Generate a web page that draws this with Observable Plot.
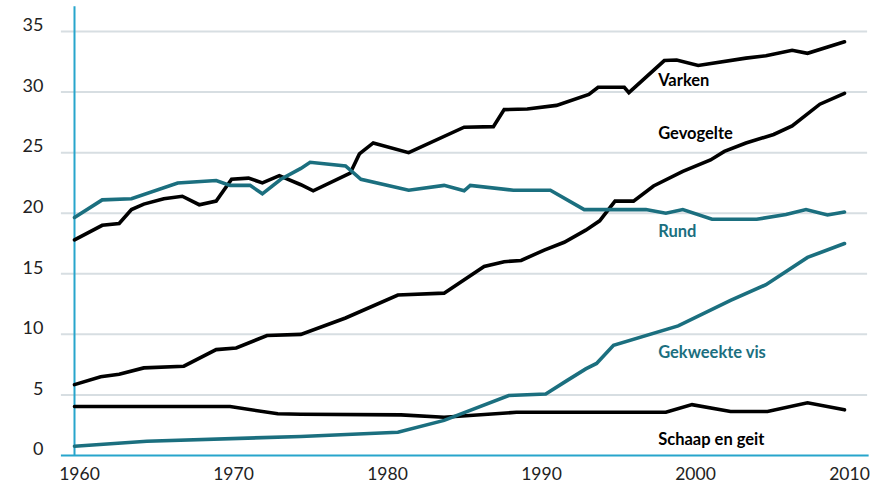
<!DOCTYPE html>
<html>
<head>
<meta charset="utf-8">
<script src="https://cdn.jsdelivr.net/npm/d3@7"></script>
<script src="https://cdn.jsdelivr.net/npm/@observablehq/plot@0.6"></script>
<style>
  html, body { margin: 0; padding: 0; background: #fff; }
  #chart { width: 886px; height: 485px; }
  svg { font-family: Lato, "Noto Sans", sans-serif; }
</style>
</head>
<body>
<div id="chart"></div>
<script>
// Series (year, value)
const varkenYears = [1960, 1961.8, 1962.9, 1963.7, 1964.5, 1965.8, 1967.0, 1968.1, 1969.2, 1970.2, 1971.3, 1972.2, 1973.3, 1974.7, 1975.5, 1977.9, 1978.5, 1979.4, 1981.7, 1985.3, 1987.2, 1987.9, 1989.4, 1991.3, 1993.4, 1994.0, 1995.7, 1996.0, 1998.3, 1999.1, 2000.5, 2003.6, 2004.9, 2006.6, 2007.6, 2010];
const varkenValues = [17.8, 19.0, 19.15, 20.3, 20.75, 21.2, 21.4, 20.7, 21.0, 22.8, 22.9, 22.5, 23.1, 22.35, 21.85, 23.3, 24.9, 25.8, 25.0, 27.1, 27.15, 28.55, 28.6, 28.9, 29.8, 30.4, 30.4, 29.95, 32.6, 32.65, 32.2, 32.8, 33.0, 33.45, 33.2, 34.15];

const gevogelteYears = [1960, 1961.7, 1962.9, 1964.5, 1967.1, 1969.2, 1970.5, 1972.5, 1974.7, 1977.6, 1981.0, 1984.0, 1986.6, 1987.9, 1989.0, 1990.5, 1991.8, 1993.2, 1994.1, 1995.1, 1996.3, 1997.6, 1999.5, 2001.3, 2002.2, 2003.6, 2005.4, 2006.6, 2008.4, 2010];
const gevogelteValues = [5.85, 6.5, 6.7, 7.23, 7.37, 8.74, 8.88, 9.9, 10.0, 11.35, 13.25, 13.4, 15.6, 16.0, 16.1, 16.96, 17.6, 18.6, 19.37, 21.0, 21.0, 22.25, 23.45, 24.4, 25.1, 25.8, 26.5, 27.2, 29.0, 29.9];

const rundYears = [1960, 1961.8, 1963.7, 1966.7, 1969.2, 1970.1, 1971.4, 1972.2, 1973.4, 1974.7, 1975.3, 1977.6, 1978.6, 1981.7, 1984.0, 1985.3, 1985.7, 1988.5, 1990.9, 1993.1, 1997.1, 1998.4, 1999.5, 2001.4, 2004.3, 2006.2, 2007.5, 2008.9, 2010];
const rundValues = [19.65, 21.1, 21.2, 22.5, 22.7, 22.3, 22.3, 21.6, 22.8, 23.7, 24.2, 23.9, 22.8, 21.9, 22.3, 21.85, 22.3, 21.9, 21.9, 20.3, 20.3, 20.0, 20.3, 19.5, 19.5, 19.9, 20.3, 19.85, 20.1];

const visYears = [1960, 1964.7, 1974.7, 1981.0, 1984.0, 1988.2, 1990.6, 1992.0, 1993.2, 1993.9, 1995.0, 1999.2, 2002.6, 2004.9, 2007.6, 2010];
const visValues = [0.77, 1.18, 1.57, 1.92, 2.9, 4.95, 5.08, 6.2, 7.15, 7.6, 9.1, 10.7, 12.8, 14.1, 16.35, 17.5];

const schaapYears = [1960, 1970.1, 1973.2, 1974.7, 1981.2, 1984.0, 1988.7, 1998.4, 2000.1, 2002.6, 2005.0, 2007.6, 2010];
const schaapValues = [4.04, 4.04, 3.44, 3.4, 3.35, 3.16, 3.57, 3.57, 4.2, 3.63, 3.63, 4.35, 3.77];

// Labels
const seriesNames = ["Varken", "Gevogelte", "Rund", "Gekweekte vis", "Schaap en geit"];
const labelX = [1997.9, 1997.9, 1997.9, 1997.9, 1997.9];
const labelY = [30.95, 26.6, 18.5, 8.5, 1.3];

const yTicks = [0, 5, 10, 15, 20, 25, 30, 35];
const xTicks = [1960, 1970, 1980, 1990, 2000, 2010];

const BLACK = "#000000";
const TEAL = "#1b6f7f";
const AXIS = "#27a5cc";
const GRID = "#d7dee2";

const seriesColor = {"Varken": BLACK, "Gevogelte": BLACK, "Rund": TEAL, "Gekweekte vis": TEAL, "Schaap en geit": BLACK};

function mk(name, years, values) {
  return years.map((y, i) => ({series: name, year: y, value: values[i]}));
}
const lines = [
  ...mk("Schaap en geit", schaapYears, schaapValues),
  ...mk("Gekweekte vis", visYears, visValues),
  ...mk("Gevogelte", gevogelteYears, gevogelteValues),
  ...mk("Varken", varkenYears, varkenValues),
  ...mk("Rund", rundYears, rundValues)
];
const labels = seriesNames.map((n, i) => ({series: n, x: labelX[i], y: labelY[i]}));

const chart = Plot.plot({
  width: 886,
  height: 485,
  marginLeft: 74,
  marginRight: 42,
  marginTop: 31,
  marginBottom: 30,
  x: {domain: [1960, 2010]},
  y: {domain: [0, 35]},
  style: {fontFamily: "Lato, 'Noto Sans', sans-serif", background: "#fff"},
  marks: [
    Plot.ruleY(yTicks.filter(d => d > 0), {x1: 1959.15, x2: 2011.5, stroke: GRID, strokeWidth: 2, clip: false}),
    Plot.ruleY([0], {x1: 1959.15, x2: 2011.6, stroke: AXIS, strokeWidth: 2, clip: false}),
    Plot.ruleX([1960], {y1: 0, y2: 37.05, stroke: AXIS, strokeWidth: 2, clip: false}),
    Plot.axisY(yTicks, {tickSize: 0, tickPadding: 31, dy: -6, fontSize: 18, fill: "#222", label: null, tickFormat: d => String(d)}),
    Plot.axisX(xTicks, {tickSize: 0, tickPadding: 12, dx: 5, fontSize: 17.5, fill: "#222", label: null, tickFormat: d => String(d)}),
    Plot.line(lines, {x: "year", y: "value", z: "series", stroke: d => seriesColor[d.series], strokeWidth: 3.6, strokeLinejoin: "miter", strokeMiterlimit: 4}),
    Plot.text(labels, {x: "x", y: "y", text: "series", textAnchor: "start", fontSize: 16.5, fontWeight: "bold", fill: d => seriesColor[d.series]})
  ]
});
document.getElementById("chart").appendChild(chart);
</script>
</body>
</html>
